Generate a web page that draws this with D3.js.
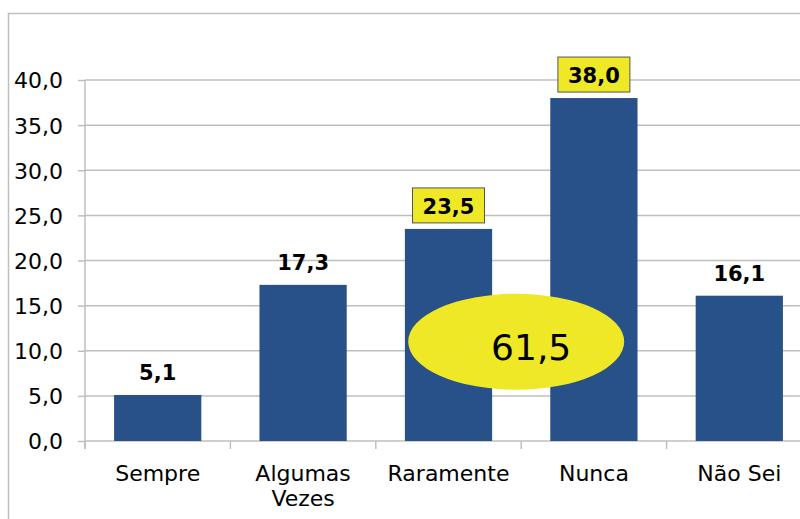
<!DOCTYPE html>
<html>
<head>
<meta charset="utf-8">
<script src="https://cdn.jsdelivr.net/npm/d3@7"></script>
<style>
  body { margin: 0; background: #fff; }
  text { font-family: "DejaVu Sans", Verdana, sans-serif; }
</style>
</head>
<body>
<script>
// chart data
const categories = ["Sempre", "Algumas Vezes", "Raramente", "Nunca", "Não Sei"];
const values = [5.1, 17.3, 23.5, 38.0, 16.1];
const highlighted = ["Raramente", "Nunca"];   // labels with yellow box
const yTicks = [0, 5, 10, 15, 20, 25, 30, 35, 40];
const totalLabel = "61,5";

const width = 800, height = 519;
const margin = { top: 80, right: -12, bottom: 78, left: 85 };

const svg = d3.select("body").append("svg")
  .attr("width", width).attr("height", height);

// outer chart frame
svg.append("rect")
  .attr("x", 8.5).attr("y", 13.5)
  .attr("width", width + 20).attr("height", height + 20)
  .attr("fill", "none").attr("stroke", "#bfbfbf").attr("stroke-width", 1.5);

const x = d3.scaleBand()
  .domain(categories)
  .range([margin.left, width - margin.right])
  .paddingInner(0.4).paddingOuter(0.2);

const y = d3.scaleLinear()
  .domain([0, 40])
  .range([height - margin.bottom, margin.top]);

const fmt = v => d3.format(".1f")(v).replace(".", ",");

// gridlines
svg.append("g").selectAll("line")
  .data(yTicks.filter(d => d > 0))
  .join("line")
  .attr("x1", margin.left).attr("x2", width)
  .attr("y1", d => y(d)).attr("y2", d => y(d))
  .attr("stroke", "#bfbfbf").attr("stroke-width", 1.5);

// y axis
const yAxis = svg.append("g")
  .attr("transform", `translate(${margin.left},0)`)
  .call(d3.axisLeft(y).tickValues(yTicks).tickFormat(fmt).tickSize(7).tickSizeOuter(0));
yAxis.select(".domain").attr("stroke", "#bfbfbf").attr("stroke-width", 1.5)
  .attr("d", `M0,${y(40)}V${y(0) + 8}`);
yAxis.selectAll(".tick line").attr("stroke", "#bfbfbf").attr("stroke-width", 1.5);
yAxis.selectAll(".tick text").attr("font-size", 22).attr("fill", "#000")
  .attr("x", -22).attr("dy", "0.36em").attr("font-family", "DejaVu Sans, Verdana, sans-serif");

// x axis
const bandStep = x.step();
const xAxis = svg.append("g")
  .attr("transform", `translate(0,${y(0)})`);
xAxis.append("line")
  .attr("x1", margin.left).attr("x2", width)
  .attr("stroke", "#bfbfbf").attr("stroke-width", 1.5);
xAxis.selectAll(".xt")
  .data(categories)
  .join("line")
  .attr("class", "xt")
  .attr("x1", d => x(d) - (bandStep - x.bandwidth()) / 2)
  .attr("x2", d => x(d) - (bandStep - x.bandwidth()) / 2)
  .attr("y1", 0).attr("y2", 8)
  .attr("stroke", "#bfbfbf").attr("stroke-width", 1.5);

xAxis.selectAll(".xl")
  .data(categories)
  .join("text")
  .attr("class", "xl")
  .attr("text-anchor", "middle")
  .attr("font-size", 22)
  .attr("fill", "#000")
  .each(function (d) {
    const words = d === "Algumas Vezes" ? ["Algumas", "Vezes"] : [d];
    d3.select(this).selectAll("tspan")
      .data(words)
      .join("tspan")
      .attr("x", x(d) + x.bandwidth() / 2)
      .attr("y", (w, i) => 40 + i * 25)
      .text(w => w);
  });

// bars
svg.append("g").selectAll("rect")
  .data(categories)
  .join("rect")
  .attr("x", d => x(d))
  .attr("width", x.bandwidth())
  .attr("y", (d, i) => y(values[i]))
  .attr("height", (d, i) => y(0) - y(values[i]))
  .attr("fill", "#285089");

// value labels
const lab = svg.append("g").selectAll("g")
  .data(categories)
  .join("g")
  .attr("transform", (d, i) => `translate(${x(d) + x.bandwidth() / 2},${y(values[i]) - 15})`);

lab.filter(d => highlighted.includes(d))
  .append("rect")
  .attr("x", -36).attr("y", -26)
  .attr("width", 72).attr("height", 35)
  .attr("fill", "#eee826").attr("stroke", "#555").attr("stroke-width", 1);

lab.append("text")
  .attr("text-anchor", "middle")
  .attr("font-size", 21)
  .attr("font-weight", "bold")
  .attr("fill", "#000")
  .text((d, i) => fmt(values[i]));

// total ellipse
const cx = (x("Raramente") + x("Nunca") + x.bandwidth()) / 2 - 5;
svg.append("ellipse")
  .attr("cx", cx).attr("cy", y(11))
  .attr("rx", 108).attr("ry", 48)
  .attr("fill", "#eee826");
svg.append("text")
  .attr("x", cx + 15).attr("y", y(11) + 18)
  .attr("text-anchor", "middle")
  .attr("font-size", 36)
  .attr("fill", "#000")
  .text(totalLabel);
</script>
</body>
</html>
